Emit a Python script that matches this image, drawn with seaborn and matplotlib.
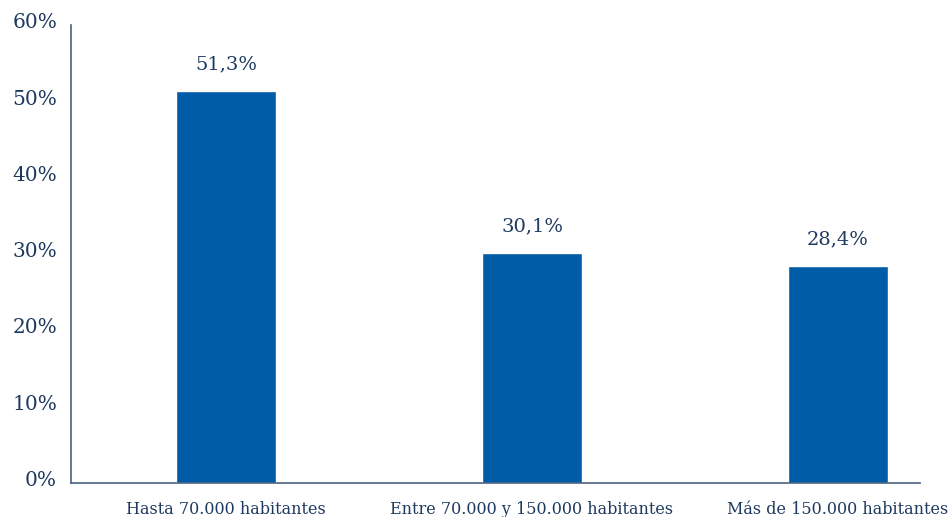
import matplotlib
matplotlib.use("Agg")
import matplotlib.pyplot as plt
import matplotlib.transforms as mtransforms
import seaborn as sns
import pandas as pd

categorias = ["Hasta 70.000 habitantes", "Entre 70.000 y 150.000 habitantes", "Más de 150.000 habitantes"]
porcentajes = [51.3, 30.1, 28.4]
etiquetas = ["51,3%", "30,1%", "28,4%"]
ticks_y = [0, 10, 20, 30, 40, 50, 60]
ticks_y_txt = ["0%", "10%", "20%", "30%", "40%", "50%", "60%"]

sns.set_style("white")
plt.rcParams["font.family"] = ["DejaVu Serif"]

AZUL = "#005CA6"
TEXTO = "#1F3A60"
EJE = "#4A6282"

df = pd.DataFrame({"categoria": categorias, "valor": porcentajes})

fig = plt.figure(figsize=(9.5, 5.17), dpi=100)
ax = fig.add_axes([0.0747, 0.0667, 0.8937, 0.8849])

sns.barplot(data=df, x="categoria", y="valor", color=AZUL, width=0.327,
            saturation=1, ax=ax)

ax.set_xlim(-0.507, 2.268)
ax.set_ylim(0, 60)
ax.set_yticks(ticks_y)
ax.set_yticklabels(ticks_y_txt)
ax.set_xlabel("")
ax.set_ylabel("")

for s in ["top", "right"]:
    ax.spines[s].set_visible(False)
for s in ["left", "bottom"]:
    ax.spines[s].set_color(EJE)
    ax.spines[s].set_linewidth(1.2)

ax.tick_params(axis="y", length=0, pad=10, labelsize=14.5, labelcolor=TEXTO)
ax.tick_params(axis="x", length=0, pad=13, labelsize=11.5, labelcolor=TEXTO)

# las etiquetas del eje Y quedan un poco por encima de su marca
subir = mtransforms.ScaledTranslation(0, 3 / 72, fig.dpi_scale_trans)
for lbl in ax.get_yticklabels():
    lbl.set_transform(lbl.get_transform() + subir)

for i, (v, t) in enumerate(zip(porcentajes, etiquetas)):
    ax.annotate(t, (i, v), xytext=(0, 13), textcoords="offset points",
                ha="center", va="bottom", fontsize=14, color=TEXTO)

fig.savefig("out.png", dpi=100)
